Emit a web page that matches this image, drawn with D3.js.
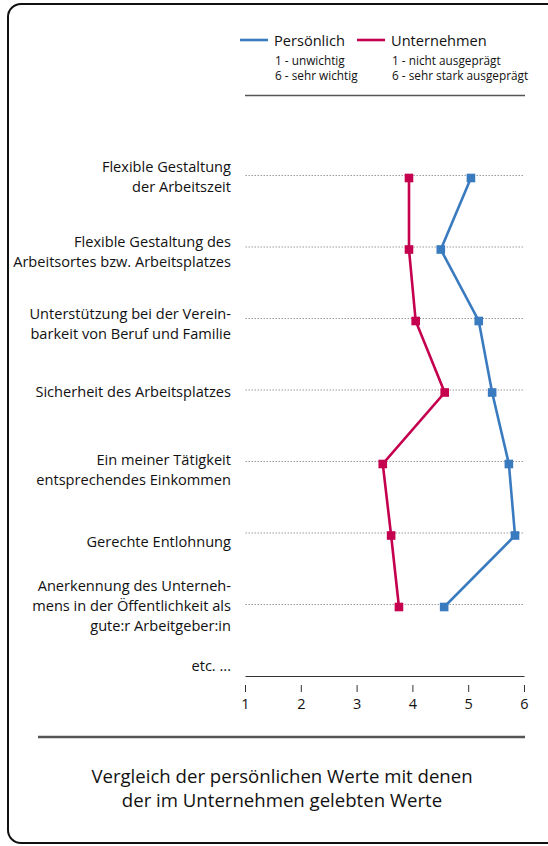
<!DOCTYPE html>
<html>
<head>
<meta charset="utf-8">
<script src="https://cdn.jsdelivr.net/npm/d3@7"></script>
<style>
  html, body { margin: 0; padding: 0; background: #fff; }
  svg { display: block; font-family: "Open Sans", sans-serif; }
</style>
</head>
<body>
<svg id="chart" width="548" height="846"></svg>
<script>
// rows, top to bottom (last one is only a placeholder label)
const criteria = [
  ["Flexible Gestaltung", "der Arbeitszeit"],
  ["Flexible Gestaltung des", "Arbeitsortes bzw. Arbeitsplatzes"],
  ["Unterstützung bei der Verein-", "barkeit von Beruf und Familie"],
  ["Sicherheit des Arbeitsplatzes"],
  ["Ein meiner Tätigkeit", "entsprechendes Einkommen"],
  ["Gerechte Entlohnung"],
  ["Anerkennung des Unterneh-", "mens in der Öffentlichkeit als", "gute:r Arbeitgeber:in"],
  ["etc. ..."]
];
const persoenlich = [5.04, 4.5, 5.18, 5.42, 5.72, 5.83, 4.56];
const unternehmen = [3.93, 3.93, 4.05, 4.57, 3.46, 3.61, 3.75];
const xTicks = [1, 2, 3, 4, 5, 6];
const legendTitles = ["Persönlich", "Unternehmen"];
const legendNotes = [
  ["1 - unwichtig", "6 - sehr wichtig"],
  ["1 - nicht ausgeprägt", "6 - sehr stark ausgeprägt"]
];
const caption = ["Vergleich der persönlichen Werte mit denen", "der im Unternehmen gelebten Werte"];

const blue = "#3a7bc0";
const red = "#c4004f";
// hand placed label nudges (px) relative to the row line
const labelNudge = [1.5, 5, 5.5, 2, 8, 8.5, 1.5, -10.5];

const svg = d3.select("#chart");

// frame
svg.append("rect")
  .attr("x", 8).attr("y", 4)
  .attr("width", 580).attr("height", 839)
  .attr("rx", 13)
  .attr("fill", "none")
  .attr("stroke", "#111")
  .attr("stroke-width", 2);

const x = d3.scaleLinear().domain([1, 6]).range([245.5, 524.5]);
const y = d3.scalePoint()
  .domain(d3.range(criteria.length))
  .range([175.5, 676]);

// legend
const legend = svg.append("g");
const legendX = [240, 357];
legendTitles.forEach((t, i) => {
  const g = legend.append("g").attr("transform", `translate(${legendX[i]},0)`);
  g.append("line")
    .attr("x1", 0).attr("x2", 28)
    .attr("y1", 40).attr("y2", 40)
    .attr("stroke", i === 0 ? blue : red)
    .attr("stroke-width", 2.6);
  g.append("text")
    .attr("x", 34).attr("y", 45.5)
    .attr("font-size", 14.6)
    .attr("fill", "#111")
    .text(t);
  legendNotes[i].forEach((n, j) => {
    g.append("text")
      .attr("x", 35).attr("y", 64.5 + j * 15)
      .attr("font-size", 11.8)
      .attr("fill", "#111")
      .text(n);
  });
});

svg.append("line")
  .attr("x1", 245).attr("x2", 525)
  .attr("y1", 95.5).attr("y2", 95.5)
  .attr("stroke", "#555")
  .attr("stroke-width", 1.4);

// dotted row lines
svg.append("g")
  .selectAll("line")
  .data(persoenlich.map((d, i) => i))
  .join("line")
  .attr("x1", x(1)).attr("x2", x(6))
  .attr("y1", (i) => y(i)).attr("y2", (i) => y(i))
  .attr("stroke", "#9a9a9a")
  .attr("stroke-width", 1)
  .attr("stroke-dasharray", "1.5,1.5");

// row labels
const labels = svg.append("g")
  .attr("font-size", 14.6)
  .attr("fill", "#111")
  .attr("text-anchor", "end");

criteria.forEach((lines, i) => {
  const cy = y(i) + labelNudge[i];
  const top = cy - (lines.length - 1) * 10;
  const t = labels.append("text");
  lines.forEach((l, j) => {
    t.append("tspan")
      .attr("x", 231)
      .attr("y", top + j * 20 + 5)
      .text(l);
  });
});

// axis
const axis = svg.append("g");
axis.append("line")
  .attr("x1", x(1)).attr("x2", x(6))
  .attr("y1", 676.5).attr("y2", 676.5)
  .attr("stroke", "#333")
  .attr("stroke-width", 1);
axis.selectAll(".tick")
  .data(xTicks)
  .join("line")
  .attr("class", "tick")
  .attr("x1", (d) => x(d)).attr("x2", (d) => x(d))
  .attr("y1", 685).attr("y2", 692)
  .attr("stroke", "#333")
  .attr("stroke-width", 1);
axis.selectAll(".tl")
  .data(xTicks)
  .join("text")
  .attr("class", "tl")
  .attr("x", (d) => x(d))
  .attr("y", 709)
  .attr("text-anchor", "middle")
  .attr("font-size", 14.5)
  .attr("fill", "#111")
  .text((d) => d);

// series
const pointShift = 2.5;
const line = d3.line()
  .x((d) => x(d))
  .y((d, i) => y(i) + pointShift);

[[unternehmen, red], [persoenlich, blue]].forEach(([vals, col]) => {
  svg.append("path")
    .datum(vals)
    .attr("d", line)
    .attr("fill", "none")
    .attr("stroke", col)
    .attr("stroke-width", 2.6);
  svg.append("g")
    .selectAll("rect")
    .data(vals)
    .join("rect")
    .attr("x", (d) => x(d) - 4.3)
    .attr("y", (d, i) => y(i) + pointShift - 4.3)
    .attr("width", 8.6)
    .attr("height", 8.6)
    .attr("fill", col);
});

// bottom rule and caption
svg.append("line")
  .attr("x1", 38).attr("x2", 525)
  .attr("y1", 737).attr("y2", 737)
  .attr("stroke", "#555")
  .attr("stroke-width", 2.4);

svg.append("g")
  .selectAll("text")
  .data(caption)
  .join("text")
  .attr("x", 282)
  .attr("y", (d, i) => 783 + i * 24)
  .attr("text-anchor", "middle")
  .attr("font-size", 18.6)
  .attr("fill", "#111")
  .text((d) => d);
</script>
</body>
</html>
